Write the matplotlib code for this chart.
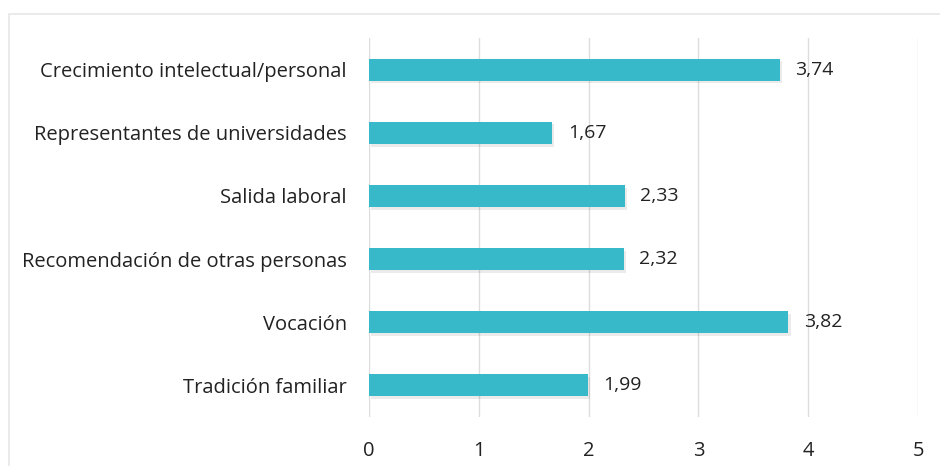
import matplotlib.pyplot as plt
from matplotlib.patches import Rectangle
import matplotlib.patheffects as pe

categorias = ['Tradición familiar', 'Vocación', 'Recomendación de otras personas',
              'Salida laboral', 'Representantes de universidades',
              'Crecimiento intelectual/personal']
valores = [1.99, 3.82, 2.32, 2.33, 1.67, 3.74]
ticks_x = [0, 1, 2, 3, 4, 5]

plt.rcParams['font.family'] = ['Open Sans', 'DejaVu Sans']

fig = plt.figure(figsize=(9.4, 4.66), dpi=100)
ax = fig.add_axes([369 / 940, 1 - 417 / 466, (918 - 369) / 940, (417 - 38) / 466])

# marco exterior del grafico
fig.patches.append(Rectangle((9 / 940, -0.05), 1.0, 1 - 14 / 466 + 0.05,
                             transform=fig.transFigure, fill=False,
                             edgecolor='#e6e6e6', linewidth=1.2))

ypos = range(len(categorias))
bars = ax.barh(ypos, valores, height=0.35, color='#38b9c9', zorder=3)
for b in bars:
    b.set_path_effects([pe.SimplePatchShadow(offset=(1.5, -2), shadow_rgbFace='#000000',
                                             alpha=0.08), pe.Normal()])

for y, v in zip(ypos, valores):
    ax.text(v + 0.14, y, f'{v:.2f}'.replace('.', ','), va='center', ha='left',
            fontsize=14, color='#222222')

ax.set_xlim(0, 5)
ax.set_ylim(-0.5, len(categorias) - 0.5)
ax.set_xticks(ticks_x)
ax.set_yticks(list(ypos))
ax.set_yticklabels(categorias)
ax.tick_params(axis='both', length=0, labelsize=14.5, colors='#222222')
ax.tick_params(axis='x', pad=17)
ax.tick_params(axis='y', pad=16)
ax.grid(axis='x', color='#dddddd', linewidth=1, zorder=0)
for s in ax.spines.values():
    s.set_visible(False)

fig.savefig('out.png', dpi=100)
